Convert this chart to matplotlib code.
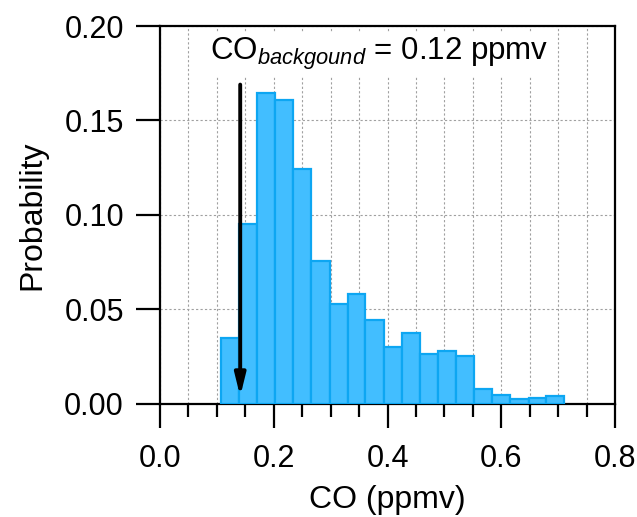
import numpy as np
import matplotlib
import matplotlib.pyplot as plt
from matplotlib.ticker import MultipleLocator

matplotlib.use('Agg')

plt.rcParams['font.family'] = ['Liberation Sans', 'DejaVu Sans']
plt.rcParams['mathtext.fontset'] = 'custom'
plt.rcParams['mathtext.rm'] = 'Liberation Sans'
plt.rcParams['mathtext.it'] = 'Liberation Sans:italic'

# CO histogram bins (ppmv) and probability per bin
bin_edges = [0.107, 0.139, 0.171, 0.202, 0.234, 0.266, 0.298, 0.330, 0.361, 0.393,
             0.425, 0.457, 0.489, 0.520, 0.552, 0.584, 0.616, 0.648, 0.679, 0.711]
probability = [0.0348, 0.0951, 0.1647, 0.1608, 0.1243, 0.0758, 0.0527, 0.0582, 0.0444, 0.0303,
               0.0377, 0.0265, 0.0282, 0.0256, 0.0078, 0.0048, 0.0028, 0.0032, 0.0042]

# background marker
co_background_x = 0.141
arrow_top = 0.169
arrow_tip = 0.004

fill_color = '#42BEFF'
edge_color = '#0DA6F2'

fig = plt.figure(figsize=(6.37, 5.17), dpi=100)
ax = fig.add_axes([0.2512, 0.2186, 0.7143, 0.7311])

edges = np.array(bin_edges)
ax.bar(edges[:-1], probability, width=np.diff(edges), align='edge',
       color=fill_color, edgecolor=edge_color, linewidth=1.6, zorder=3)

ax.set_xlim(0, 0.8)
ax.set_ylim(0, 0.2)
ax.xaxis.set_major_locator(MultipleLocator(0.2))
ax.xaxis.set_minor_locator(MultipleLocator(0.05))
ax.yaxis.set_major_locator(MultipleLocator(0.05))
ax.set_xticklabels([f'{v:.1f}' for v in ax.get_xticks()])
ax.set_yticklabels([f'{v:.2f}' for v in ax.get_yticks()])

ax.grid(True, which='both', axis='x', linestyle=(0, (2, 2)), color='#a0a0a0', linewidth=0.8, zorder=0)
ax.grid(True, which='major', axis='y', linestyle=(0, (2, 2)), color='#a0a0a0', linewidth=0.8, zorder=0)
ax.set_axisbelow(True)

ax.tick_params(which='major', direction='out', length=17, width=1.6, labelsize=22)
ax.tick_params(axis='x', which='major', pad=12)
ax.tick_params(axis='y', which='major', pad=9)
ax.tick_params(which='minor', direction='out', length=9, width=1.6)
for s in ax.spines.values():
    s.set_linewidth(1.6)

ax.set_xlabel('CO (ppmv)', fontsize=23, labelpad=8)
ax.set_ylabel('Probability', fontsize=23, labelpad=12)

ax.annotate('', xy=(co_background_x, arrow_tip), xytext=(co_background_x, arrow_top),
            arrowprops=dict(arrowstyle='-|>,head_length=1.3,head_width=0.32', color='black', lw=2.8,
                            shrinkA=0, shrinkB=0), zorder=5)

ax.text(0.088, 0.182, r'CO$_{\mathit{backgound}}$ = 0.12 ppmv', fontsize=22.5,
        ha='left', va='baseline', zorder=4,
        bbox=dict(facecolor='white', edgecolor='none', pad=3))

plt.savefig('out.png', dpi=100)
plt.close()
